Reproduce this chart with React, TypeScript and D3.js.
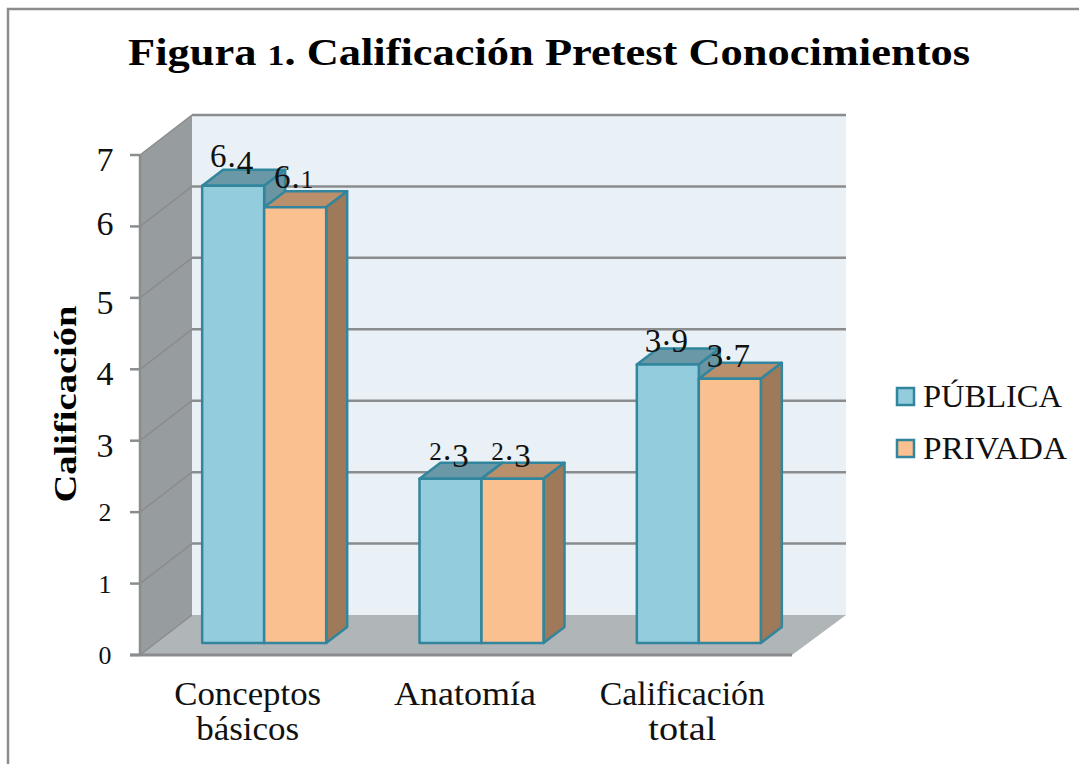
import React from "react";
import * as d3 from "d3";

const categories = [["Conceptos", "básicos"], ["Anatomía"], ["Calificación", "total"]];
const seriesNames = ["PÚBLICA", "PRIVADA"];
const publica = [6.4, 2.3, 3.9];
const privada = [6.1, 2.3, 3.7];
const yTicks = [0, 1, 2, 3, 4, 5, 6, 7];
const faces = [
  { front: "#93cddd", top: "#6b98a6", side: "#6a96a3" },
  { front: "#fac090", top: "#ba8f6b", side: "#9f7a5a" },
];
const labelWidths: Record<string, number> = {
  Conceptos: 147, "básicos": 103, "Anatomía": 142, "Calificación": 165, total: 68,
  "PÚBLICA": 139, PRIVADA: 144,
};

const FONT = "'Liberation Serif', serif";
const STROKE = "#31859c";
const GRID = "#8a8c8e";

const W = 1079, H = 764;
const x0 = 140, x1 = 792, yBase = 655, yTop = 155;
const depthX = 52, depthY = 40;
const barDx = 21, barDy = 16;

const y = d3.scaleLinear().domain([0, 7]).range([yBase, yTop]);
const xCat = d3.scaleBand<number>().domain(d3.range(categories.length)).range([x0, x1]);
const barBase = y(0) - 12;
const barGroupOffset = 15.5;
const xSer = d3.scaleBand<number>().domain([0, 1]).range([-62, 62]);
const pts = (p: number[][]) => d3.line()(p as [number, number][])! + "Z";

function OldStyle({ s }: { s: string }) {
  return (
    <>
      {s.split("").map((c, i) => {
        if ("012".includes(c)) return <tspan key={i} fontSize="0.76em">{c}</tspan>;
        if ("34579".includes(c))
          return <tspan key={i} style={{ baselineShift: "-0.2em" } as any}>{c}</tspan>;
        return <tspan key={i}>{c}</tspan>;
      })}
    </>
  );
}

export default function App() {
  const series = [publica, privada];
  return (
    <svg width={W} height={H} viewBox={`0 0 ${W} ${H}`}
      style={{ position: "fixed", left: 0, top: 0, display: "block", background: "#fff" }}>
      <path d={`M${W + 2},9 L8,9 L8,${H + 2}`} fill="none" stroke="#8c8c8c" strokeWidth={2.5} />

      <text x={128} y={65} fontFamily={FONT} fontWeight="bold" fontSize={38} fill="#000"
        textLength={842} lengthAdjust="spacingAndGlyphs">
        Figura <tspan fontSize="0.76em">1</tspan>. Calificación  Pretest Conocimientos
      </text>

      {/* walls */}
      <rect x={x0 + depthX} y={yTop - depthY} width={x1 - x0 + 2} height={yBase - yTop} fill="#e9f0f6" />
      <path d={pts([[x0, yTop], [x0 + depthX, yTop - depthY], [x0 + depthX, yBase - depthY], [x0, yBase]])} fill="#979c9e" />
      <path d={pts([[x0, yBase], [x1, yBase], [x1 + depthX + 2, yBase - depthY], [x0 + depthX, yBase - depthY]])} fill="#b0b5b8" />

      {/* grid */}
      {yTicks.map(t => (
        <g key={t} fill="none" stroke={GRID} strokeWidth={2.5}>
          {t > 0 && <line x1={x0 + depthX} x2={x1 + depthX + 2} y1={y(t) - depthY} y2={y(t) - depthY} />}
          <line x1={x0} y1={y(t)} x2={x0 + depthX} y2={y(t) - depthY} strokeWidth={1.5} />
          <line x1={x0 - 10} x2={x0} y1={y(t)} y2={y(t)} />
        </g>
      ))}
      <line x1={x0} x2={x0} y1={yTop} y2={yBase} stroke={GRID} strokeWidth={2.5} />
      <line x1={x0 - 10} x2={x1} y1={yBase} y2={yBase} stroke={GRID} strokeWidth={3} />

      {/* y labels */}
      {yTicks.map(t => (
        <text key={t} x={105} y={y(t) + 9} textAnchor="middle" fontFamily={FONT} fontSize={34} fill="#111">
          <OldStyle s={String(t)} />
        </text>
      ))}
      <text transform="translate(76,404) rotate(-90)" textAnchor="middle" fontFamily={FONT}
        fontWeight="bold" fontSize={32} fill="#000" textLength={197} lengthAdjust="spacingAndGlyphs">
        Calificación
      </text>

      {/* bars */}
      {categories.map((_, ci) => {
        const cx = xCat(ci)! + xCat.bandwidth() / 2 + barGroupOffset;
        return (
          <g key={ci} stroke={STROKE} strokeWidth={2.5} strokeLinejoin="round">
            {series.map((vals, si) => {
              const l = cx + xSer(si)!;
              const r = l + xSer.bandwidth();
              const t = barBase - (y(0) - y(vals[ci]));
              const f = faces[si];
              return (
                <g key={si}>
                  <path d={pts([[l, t], [r, t], [r + barDx, t - barDy], [l + barDx, t - barDy]])} fill={f.top} />
                  <path d={pts([[r, t], [r + barDx, t - barDy], [r + barDx, barBase - barDy], [r, barBase]])} fill={f.side} />
                  <rect x={l} y={t} width={r - l} height={barBase - t} fill={f.front} />
                </g>
              );
            })}
          </g>
        );
      })}

      {/* data labels */}
      {categories.map((_, ci) => {
        const cx = xCat(ci)! + xCat.bandwidth() / 2 + barGroupOffset;
        return series.map((vals, si) => (
          <text key={`${ci}-${si}`} x={cx + xSer(si)! + xSer.bandwidth() / 2 - 1}
            y={barBase - (y(0) - y(vals[ci])) - 19} textAnchor="middle"
            fontFamily={FONT} fontSize={33} fill="#111" letterSpacing={1}>
            <OldStyle s={vals[ci].toFixed(1)} />
          </text>
        ));
      })}

      {/* category labels */}
      {categories.map((lines, ci) =>
        lines.map((ln, li) => (
          <text key={ln} x={xCat(ci)! + xCat.bandwidth() / 2 - 1} y={705 + li * 35} textAnchor="middle"
            fontFamily={FONT} fontSize={33} fill="#111"
            textLength={labelWidths[ln]} lengthAdjust="spacingAndGlyphs">{ln}</text>
        ))
      )}

      {/* legend */}
      {seriesNames.map((n, i) => (
        <g key={n}>
          <rect x={897} y={388 + i * 52} width={17} height={17} fill={faces[i].front} stroke={STROKE} strokeWidth={2.5} />
          <text x={923} y={407 + i * 52} fontFamily={FONT} fontSize={32} fill="#111"
            textLength={labelWidths[n]} lengthAdjust="spacingAndGlyphs">{n}</text>
        </g>
      ))}
    </svg>
  );
}
